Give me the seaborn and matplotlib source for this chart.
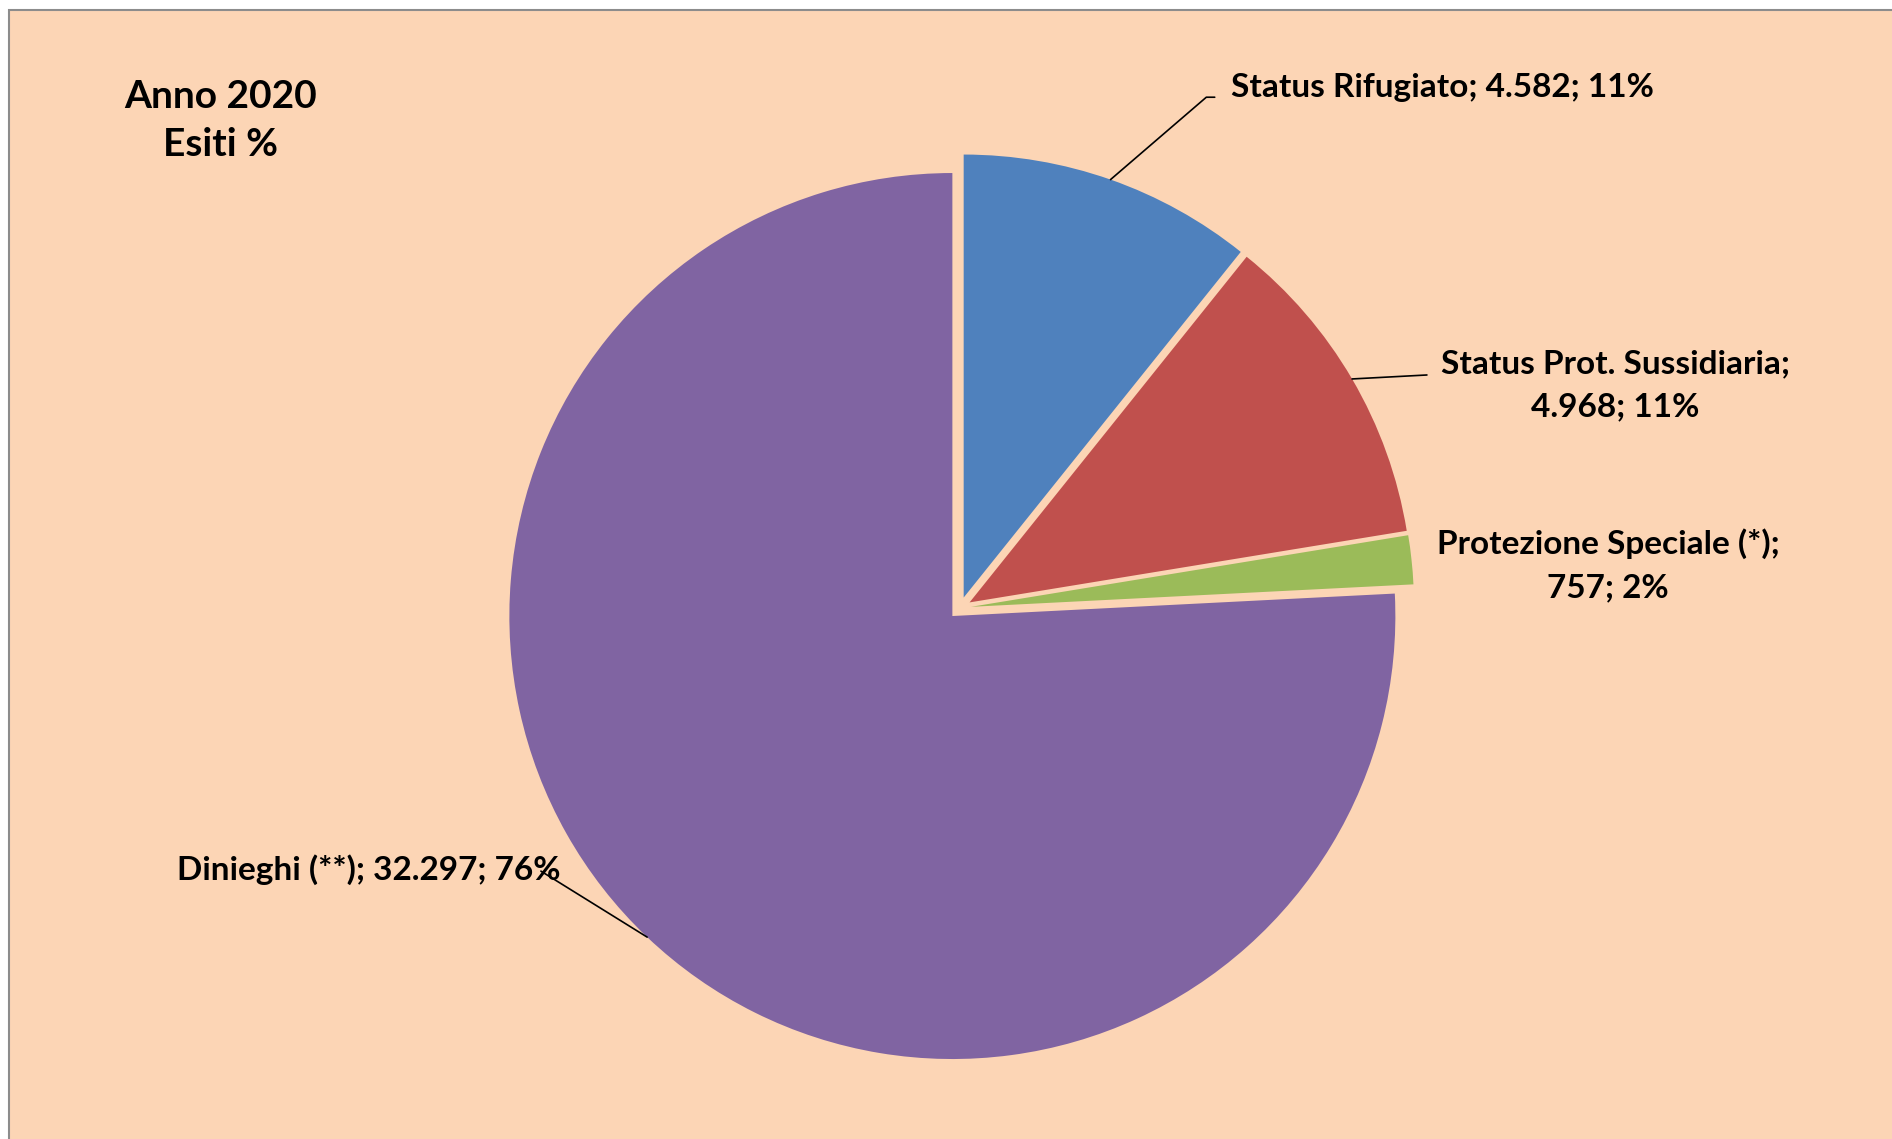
import numpy as np
import matplotlib
matplotlib.use("Agg")
import matplotlib.pyplot as plt
from matplotlib import font_manager
from matplotlib.patches import Rectangle
import seaborn as sns

# data
categorie = ["Status Rifugiato", "Status Prot. Sussidiaria", "Protezione Speciale (*)", "Dinieghi (**)"]
valori = [4582, 4968, 757, 32297]
valori_txt = ["4.582", "4.968", "757", "32.297"]
perc_txt = ["11%", "11%", "2%", "76%"]
colori = ["#4F81BD", "#C0504D", "#9BBB59", "#8064A2"]

sns.set_theme(style="white")
installed = {f.name for f in font_manager.fontManager.ttflist}
font = "Liberation Sans Narrow" if "Liberation Sans Narrow" in installed else "Lato"
plt.rcParams["font.family"] = [font, "DejaVu Sans"]
plt.rcParams["font.weight"] = "bold"

W, H = 1892, 1139
CX, CY, R = 960, 608, 443   # pie centre and radius in pixels

fig = plt.figure(figsize=(W / 100, H / 100), dpi=100, facecolor="white")
fig.patches.append(Rectangle((9 / W, -0.02), 1.05, (H - 10) / H + 0.02, transform=fig.transFigure,
                             facecolor="#FCD5B5", edgecolor="#8C8C8C", linewidth=1.5, zorder=-10))

ax = fig.add_axes([0, 0, 1, 1])
ax.set_facecolor("none")

wedges, _ = ax.pie(valori, colors=sns.color_palette(colori), startangle=90, counterclock=False,
                   explode=[0.025] * 4, wedgeprops=dict(linewidth=0))
ax.set_aspect("auto")
ax.set_xlim(-CX / R, (W - CX) / R)
ax.set_ylim((CY - H) / R, CY / R)
ax.axis("off")

testi = [f"{c}; {t}; {p}" for c, t, p in zip(categorie, valori_txt, perc_txt)]
testi[1] = f"{categorie[1]};\n{valori_txt[1]}; {perc_txt[1]}"
testi[2] = f"{categorie[2]};\n{valori_txt[2]}; {perc_txt[2]}"

fs = 24
# label positions (data units, pie radius = 1)
pos = [(0.612, 1.174), (1.479, 0.503), (1.463, 0.097), (-1.767, -0.591)]
allin = ["left", "center", "center", "left"]
# where the leader lines end near the text
fine_linea = [[(0.556, 1.153), (0.575, 1.153)], [(1.054, 0.526)], None, [(-0.946, -0.594)]]

for w, t, p, ha, fl in zip(wedges, testi, pos, allin, fine_linea):
    ax.text(p[0], p[1], t, ha=ha, va="center", fontsize=fs, fontweight="bold",
            linespacing=1.6, color="black")
    if fl is None:
        continue
    mid = np.deg2rad((w.theta1 + w.theta2) / 2)
    ax_ = w.center[0] + w.r * np.cos(mid)
    ay_ = w.center[1] + w.r * np.sin(mid)
    xs = [ax_] + [q[0] for q in fl]
    ys = [ay_] + [q[1] for q in fl]
    ax.plot(xs, ys, color="black", linewidth=1.2)

ax.text(-1.670, 1.100, "Anno 2020\nEsiti %", ha="center", va="center", fontsize=28,
        fontweight="bold", linespacing=1.45, color="black")

fig.savefig("out.png", dpi=100, facecolor=fig.get_facecolor())
